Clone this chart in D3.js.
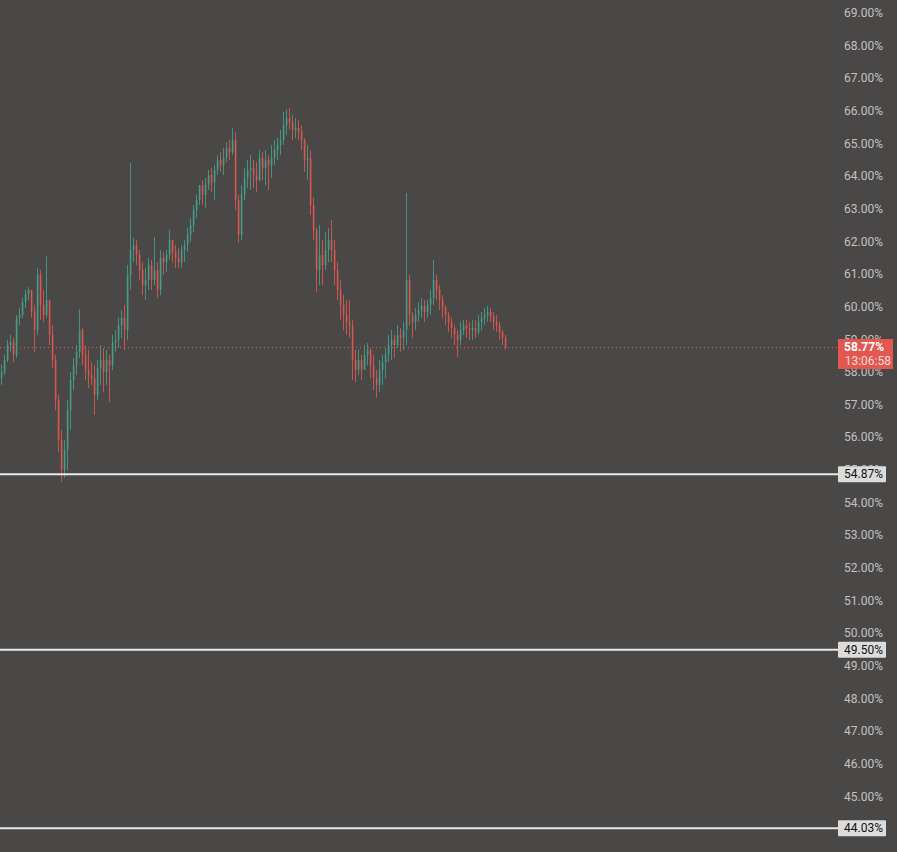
<!DOCTYPE html>
<html>
<head>
<meta charset="utf-8">
<script src="https://cdn.jsdelivr.net/npm/d3@7"></script>
<style>
  html, body { margin: 0; padding: 0; background: #4a4747; overflow: hidden; }
  svg { display: block; }
</style>
</head>
<body>
<svg id="chart" width="897" height="852"></svg>
<script>
// ---- data (percent) ----
const firstOpen = 57.82;
const highs = [
58.22,58.53,58.99,59.14,59.05,59.75,59.97,60.27,60.52,60.61,60.52,60.06,61.19,61.13,60.52,61.56,60.21,59.44,58.53,57.30,
56.23,55.92,57.15,58.00,58.43,58.83,59.93,59.35,58.83,58.68,58.31,58.22,58.37,58.83,58.74,58.68,58.53,59.14,59.29,59.66,59.90,60.06,61.28,
64.41,62.11,62.05,61.74,61.37,61.19,61.50,61.44,62.14,61.37,61.74,61.68,61.74,62.35,62.05,61.89,61.80,61.89,62.05,62.42,62.72,63.12,63.43,63.73,63.88,63.95,64.19,64.25,64.35,64.65,64.74,64.87,65.05,65.11,65.48,65.36,63.43,63.73,64.25,64.50,64.65,
64.50,64.44,64.80,64.74,64.80,64.65,64.96,65.11,65.17,65.42,65.97,66.03,66.09,65.88,65.78,65.72,65.57,65.17,64.96,64.80,63.34,62.42,62.51,62.05,62.29,62.42,62.66,62.05,61.37,60.82,60.36,60.21,60.21,59.60,58.68,58.68,58.53,58.83,58.89,58.74,58.53,58.07,
58.37,58.53,58.74,59.14,59.29,59.14,59.44,59.35,59.54,63.49,60.98,59.84,59.97,60.15,60.27,60.21,60.21,60.52,61.44,60.98,60.67,60.36,60.06,59.84,59.66,59.44,59.29,59.54,59.60,59.60,59.54,59.60,59.60,59.75,59.84,59.97,60.03,59.97,59.84,59.75,59.54,59.29,59.14
];
const lows = [
57.61,57.91,58.31,58.62,58.31,58.43,59.44,59.66,59.97,60.21,59.66,58.62,59.14,59.60,59.54,59.66,58.83,58.13,56.84,55.55,
54.64,54.76,55.00,56.23,57.45,57.91,58.43,58.22,57.76,57.51,57.61,56.69,57.15,57.61,57.39,57.61,57.08,58.07,58.62,58.74,59.05,58.68,58.99,
60.52,61.37,61.28,60.82,60.36,60.21,60.52,60.52,60.67,60.27,60.36,60.98,61.07,61.44,61.37,61.19,61.19,61.19,61.37,61.68,61.99,62.29,62.72,63.12,63.12,63.03,63.58,63.52,63.27,64.04,64.13,64.04,64.44,64.50,64.65,62.97,61.96,62.05,63.27,63.64,63.58,
63.64,63.52,63.85,63.88,63.73,63.58,63.95,64.35,64.50,64.65,64.96,65.26,65.42,65.11,65.17,65.11,64.80,64.13,63.88,62.81,62.05,60.46,60.67,60.67,61.13,61.37,61.37,60.67,60.21,59.60,59.29,59.14,59.05,57.76,57.70,57.91,57.76,58.07,58.22,57.82,57.45,57.21,
57.39,57.61,57.82,58.31,58.37,58.43,58.74,58.62,58.68,58.83,59.44,59.05,59.29,59.54,59.66,59.54,59.66,59.75,60.06,60.21,59.90,59.66,59.44,59.23,59.05,58.83,58.46,58.83,59.14,59.05,58.99,58.99,59.05,59.14,59.29,59.44,59.54,59.54,59.29,59.23,58.99,58.83,58.68
];
const closes = [
58.00,58.37,58.83,58.92,58.53,59.66,59.75,60.15,60.39,60.52,59.84,59.29,60.98,60.06,59.75,60.21,59.14,58.37,57.15,55.92,
55.00,55.62,56.84,57.76,58.22,58.62,59.29,58.53,58.07,57.91,57.82,57.30,58.13,58.37,58.00,58.37,58.22,58.92,58.99,59.44,59.66,59.29,60.98,
61.74,61.89,61.59,61.13,60.67,60.82,61.28,60.82,61.13,60.52,61.50,61.37,61.59,62.05,61.68,61.50,61.37,61.74,61.89,62.20,62.51,62.97,63.27,63.73,63.43,63.73,64.04,63.82,64.19,64.50,64.35,64.56,64.87,64.74,65.11,63.27,62.20,63.43,63.95,64.19,64.25,
64.04,63.88,64.56,64.25,64.50,64.35,64.56,64.80,64.96,65.11,65.57,65.78,65.66,65.42,65.48,65.36,65.11,64.50,64.56,63.12,62.35,61.13,61.59,61.28,61.74,62.05,61.74,61.13,60.52,60.06,59.75,59.54,59.44,58.37,58.07,58.37,58.07,58.53,58.68,58.22,57.82,57.61,
58.07,58.31,58.53,58.83,58.99,58.83,59.14,59.05,59.29,60.82,59.75,59.54,59.75,59.90,60.03,59.84,60.06,60.27,60.82,60.52,60.21,59.97,59.75,59.54,59.35,59.14,58.99,59.29,59.44,59.35,59.29,59.35,59.23,59.54,59.66,59.75,59.84,59.72,59.54,59.44,59.23,59.05,58.77
];
const opens = [firstOpen].concat(closes.slice(0, closes.length - 1));

const tickValues = d3.range(44, 70, 1);
const levelLines = [54.87, 49.50, 44.03];
const lastPrice = 58.77;
const countdown = "13:06:58";

// ---- layout ----
const W = 897, H = 852;
const plotRight = 838;
const svg = d3.select("#chart");
svg.append("rect").attr("width", W).attr("height", H).attr("fill", "#4a4747");

const y = d3.scaleLinear().domain([44, 69]).range([829.25, 13]);
const x = d3.scaleLinear().domain([0, closes.length - 1]).range([1, 505]);

const upColor = "#45a08b", downColor = "#dc5850";

// axis labels
const axisG = svg.append("g");
axisG.selectAll("text").data(tickValues).join("text")
  .attr("x", 883).attr("y", d => y(d))
  .attr("text-anchor", "end").attr("dominant-baseline", "central")
  .attr("font-family", "Roboto, 'Liberation Sans', sans-serif")
  .attr("font-size", 12).attr("fill", "#c2c2c2")
  .text(d => d.toFixed(2) + "%");

// candles
const candles = closes.map((c, i) => ({ i, o: opens[i], h: highs[i], l: lows[i], c }));
const cg = svg.append("g");
cg.selectAll("line.wick").data(candles).join("line")
  .attr("class", "wick")
  .attr("x1", d => x(d.i) + 0.5).attr("x2", d => x(d.i) + 0.5)
  .attr("y1", d => y(d.h)).attr("y2", d => y(d.l))
  .attr("stroke", d => d.c >= d.o ? upColor : downColor)
  .attr("stroke-width", 1).attr("opacity", 0.85);
cg.selectAll("rect.body").data(candles).join("rect")
  .attr("class", "body")
  .attr("x", d => x(d.i) - 0.25)
  .attr("width", 1.75)
  .attr("y", d => y(Math.max(d.o, d.c)))
  .attr("height", d => Math.max(1, Math.abs(y(d.o) - y(d.c))))
  .attr("fill", d => d.c >= d.o ? upColor : downColor)
  .attr("opacity", 0.8);

// last price dotted line
svg.append("line")
  .attr("x1", 0).attr("x2", plotRight)
  .attr("y1", Math.round(y(lastPrice)) + 0.5).attr("y2", Math.round(y(lastPrice)) + 0.5)
  .attr("stroke", "#e2574f").attr("stroke-width", 1)
  .attr("stroke-dasharray", "1,3");

// level lines
const lg = svg.append("g");
levelLines.forEach(v => {
  const yy = y(v);
  lg.append("line").attr("x1", 0).attr("x2", plotRight)
    .attr("y1", yy).attr("y2", yy)
    .attr("stroke", "#e8e8e8").attr("stroke-width", 2);
  lg.append("rect").attr("x", plotRight).attr("y", yy - 8)
    .attr("width", 48).attr("height", 16).attr("rx", 1)
    .attr("fill", "#dcdcdc");
  lg.append("text").attr("x", 883).attr("y", yy)
    .attr("text-anchor", "end").attr("dominant-baseline", "central")
    .attr("font-family", "Roboto, 'Liberation Sans', sans-serif")
    .attr("font-size", 12).attr("fill", "#111")
    .text(v.toFixed(2) + "%");
});

// last price label
const py = y(lastPrice);
svg.append("rect").attr("x", plotRight).attr("y", py - 8)
  .attr("width", 55).attr("height", 30).attr("fill", "#e2574f");
svg.append("text").attr("x", 884).attr("y", py)
  .attr("text-anchor", "end").attr("dominant-baseline", "central")
  .attr("font-family", "Roboto, 'Liberation Sans', sans-serif")
  .attr("font-size", 12).attr("font-weight", "bold").attr("fill", "#ffffff")
  .text(lastPrice.toFixed(2) + "%");
svg.append("text").attr("x", 891).attr("y", py + 14)
  .attr("text-anchor", "end").attr("dominant-baseline", "central")
  .attr("font-family", "Roboto, 'Liberation Sans', sans-serif")
  .attr("font-size", 12).attr("fill", "#f4dcdb")
  .text(countdown);
</script>
</body>
</html>
